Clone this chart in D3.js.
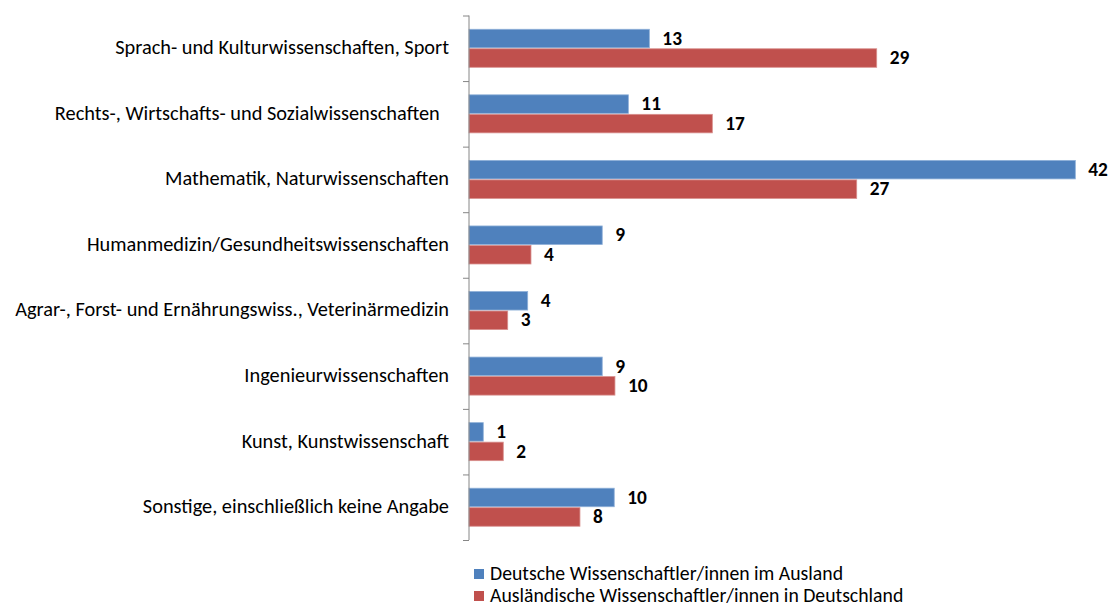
<!DOCTYPE html>
<html><head><meta charset="utf-8">
<script src="https://cdn.jsdelivr.net/npm/d3@7"></script>
<style>body{margin:0;background:#fff}svg{display:block}text{font-family:Carlito,Calibri,Lato,"Open Sans",sans-serif}</style>
</head><body><svg id="c" width="1109" height="608"></svg>
<script>
const categories = [
  "Sprach- und Kulturwissenschaften, Sport",
  "Rechts-, Wirtschafts- und Sozialwissenschaften\u00a0\u00a0",
  "Mathematik, Naturwissenschaften",
  "Humanmedizin/Gesundheitswissenschaften",
  "Agrar-, Forst- und Ernährungswiss., Veterinärmedizin",
  "Ingenieurwissenschaften",
  "Kunst, Kunstwissenschaft",
  "Sonstige, einschließlich keine Angabe"
];
const seriesNames = ["Deutsche Wissenschaftler/innen im Ausland", "Ausländische Wissenschaftler/innen in Deutschland"];
const germanAbroad = [12.63, 11.16, 42.46, 9.33, 4.11, 9.33, 1.0, 10.17];
const foreignInGermany = [28.55, 17.04, 27.15, 4.34, 2.71, 10.22, 2.40, 7.77];
const colors = ["#4F81BD", "#C0504D"];

const svg = d3.select("#c");

// pick a font size whose width matches the reference's text width
const probe = svg.append("text").attr("font-size", 16).text(categories[0]);
const w16 = probe.node().getComputedTextLength();
probe.remove();
const fs = Math.min(21, 16 * 334 / w16);

const x0 = 469;
const x = d3.scaleLinear().domain([0, 45]).range([x0, x0 + 45 * 14.28]);
const y = d3.scaleBand().domain(categories).range([15.5, 540]).paddingInner(0.42).paddingOuter(0.21);
const sub = d3.scaleBand().domain([0, 1]).range([0, y.bandwidth()]).paddingInner(0.05);

const series = [germanAbroad, foreignInGermany];
series.forEach((vals, si) => {
  const g = svg.append("g");
  g.selectAll("rect").data(vals).join("rect")
    .attr("x", x(0))
    .attr("y", (d, i) => y(categories[i]) + sub(si))
    .attr("width", d => x(d) - x(0))
    .attr("height", sub.bandwidth())
    .attr("fill", colors[si])
    .attr("stroke", si === 0 ? "#8fb0d8" : "#d88f8d")
    .attr("stroke-width", 0.8);
  g.selectAll("text").data(vals).join("text")
    .attr("x", d => x(d) + 13)
    .attr("y", (d, i) => y(categories[i]) + sub(si) + sub.bandwidth() / 2 + 1.5)
    .attr("dominant-baseline", "middle")
    .attr("font-size", fs * 0.95)
    .attr("font-weight", "bold")
    .attr("fill", "#000")
    .text(d => d3.format(".0f")(d));
});

// axis
const axis = d3.axisLeft(d3.scaleLinear().domain([0, categories.length]).range([15.5, 540]))
  .ticks(categories.length).tickSize(6).tickFormat("");
const ag = svg.append("g").attr("transform", `translate(${x0},0)`).call(axis);
ag.select(".domain").attr("stroke", "#868686").attr("d", "M0,15.5V540");
ag.selectAll(".tick line").attr("stroke", "#868686");

svg.append("g").selectAll("text").data(categories).join("text")
  .attr("x", 449)
  .attr("y", d => y(d) - y.step() * 0.21 + y.step() / 2 + 1)
  .attr("text-anchor", "end")
  .attr("dominant-baseline", "middle")
  .attr("font-size", fs)
  .attr("fill", "#000")
  .style("white-space", "pre")
  .text(d => d);

// legend
const lg = svg.append("g");
seriesNames.forEach((n, i) => {
  const cy = 574 + i * 22;
  lg.append("rect").attr("x", 474).attr("y", cy - 5).attr("width", 10).attr("height", 10).attr("fill", colors[i]);
  lg.append("text").attr("x", 490).attr("y", cy + 1).attr("dominant-baseline", "middle")
    .attr("font-size", fs * 0.97).attr("fill", "#000").text(n);
});
</script></body></html>
